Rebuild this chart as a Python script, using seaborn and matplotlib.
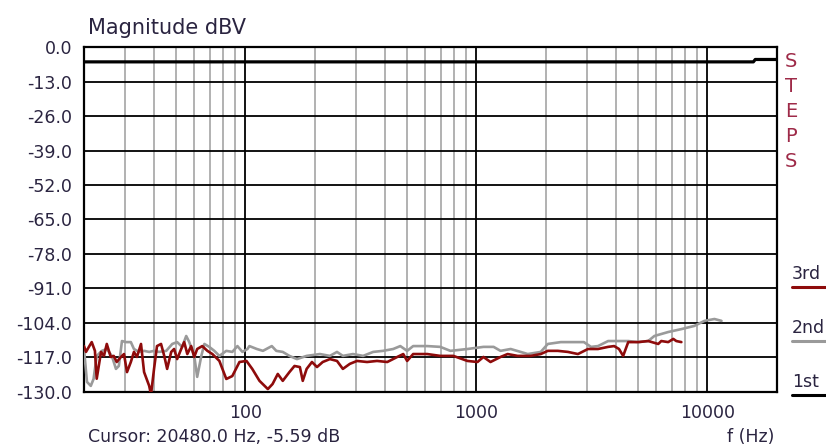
import numpy as np
import pandas as pd
import matplotlib
matplotlib.use("Agg")
import matplotlib.pyplot as plt
import seaborn as sns
from matplotlib.lines import Line2D
from matplotlib.ticker import FixedLocator, LogLocator, NullFormatter

# 1st harmonic (fundamental), dBV
freq_1st = [20, 15800, 16100, 20000]
db_1st = [-5.6, -5.6, -4.7, -4.7]

# 2nd harmonic
freq_2nd = [20.0, 20.6, 21.4, 22.0, 22.7, 23.9, 25.1, 26.4, 27.5, 28.3, 29.2, 30.4, 31.9, 32.9,
            34.6, 36.4, 38.3, 40.2, 42.3, 45.4, 48.2, 50.6, 53.2, 55.4, 57.1, 60.0, 61.8, 64.4,
            66.4, 69.7, 73.3, 77.1, 82.6, 87.7, 92.3, 97.0, 102, 104, 112, 119, 130, 136, 145,
            155, 167, 184, 210, 232, 249, 264, 292, 323, 357, 394, 436, 468, 501, 532, 612, 697,
            771, 914, 1072, 1186, 1271, 1406, 1553, 1667, 1898, 2036, 2317, 2917, 3133, 3357,
            3715, 4539, 5012, 5538, 5888, 6761, 7709, 8770, 9705, 10720, 11500]
db_2nd = [-113.8, -126.2, -127.7, -125.1, -116.4, -114.5, -113.8, -116.4, -121.3, -120.2, -110.8,
          -111.2, -111.2, -113.8, -114.9, -114.5, -114.9, -114.5, -114.9, -114.5, -111.9, -111.2,
          -113.0, -108.9, -111.2, -116.4, -124.3, -116.4, -111.9, -113.0, -114.5, -116.4, -114.5,
          -114.9, -112.7, -114.9, -113.8, -112.7, -113.8, -114.5, -112.7, -114.5, -114.9, -116.4,
          -117.6, -116.4, -115.7, -116.4, -114.9, -116.4, -115.7, -116.4, -114.9, -114.5, -113.8,
          -112.7, -114.5, -112.7, -112.7, -113.0, -114.5, -113.8, -113.0, -113.0, -114.5, -113.8,
          -114.9, -115.7, -114.9, -111.9, -111.2, -111.2, -113.0, -112.7, -110.8, -110.8, -111.2,
          -110.8, -108.9, -107.4, -106.3, -105.1, -103.2, -102.5, -103.2]

# 3rd harmonic
freq_3rd = [20, 20.4, 21.0, 21.6, 22.3, 22.7, 23.7, 24.4, 25.1, 26.1, 26.9, 27.7, 28.9, 29.8, 30.7,
            31.9, 32.9, 33.9, 35.3, 36.4, 38.3, 39.0, 40.2, 41.4, 43.1, 44.5, 45.8, 47.7, 49.1,
            50.6, 52.7, 54.3, 56.0, 58.2, 60.0, 61.8, 65.0, 68.4, 71.9, 77.1, 82.6, 87.7, 94.2,
            101, 107, 115, 125, 131, 138, 145, 155, 163, 172, 177, 184, 194, 204, 216, 232, 249,
            264, 283, 304, 336, 371, 411, 454, 482, 501, 532, 612, 697, 794, 914, 1010, 1072,
            1150, 1271, 1364, 1507, 1717, 1898, 2036, 2249, 2488, 2749, 3039, 3357, 3715, 3945,
            4140, 4315, 4539, 5012, 5538, 6121, 6310, 6761, 7112, 7328, 7709]
db_3rd = [-112.7, -114.9, -113.0, -111.2, -114.5, -125.0, -114.9, -116.4, -111.9, -116.8, -116.4,
          -118.7, -116.8, -115.7, -122.5, -118.7, -114.9, -116.8, -111.9, -122.5, -127.7, -131.0,
          -121.3, -112.7, -111.9, -116.4, -121.3, -114.9, -113.8, -117.6, -113.8, -111.2, -115.7,
          -112.7, -116.8, -113.8, -112.7, -114.5, -115.7, -118.3, -125.1, -124.0, -118.7, -118.3,
          -121.3, -125.8, -128.9, -127.0, -123.2, -125.8, -122.5, -120.2, -120.6, -125.8, -121.3,
          -118.7, -120.6, -118.7, -117.6, -118.3, -121.3, -119.4, -118.3, -118.7, -118.3, -118.7,
          -116.8, -115.7, -118.3, -115.7, -115.7, -116.4, -116.4, -118.3, -118.7, -116.8, -118.7,
          -116.8, -115.7, -116.4, -116.4, -115.7, -114.5, -114.5, -114.9, -115.7, -113.8, -113.8,
          -113.0, -112.7, -113.8, -116.4, -111.2, -111.2, -110.8, -111.9, -110.8, -111.2, -110.0,
          -110.8, -111.2]

y_ticks = [0, -13, -26, -39, -52, -65, -78, -91, -104, -117, -130]
x_ticks = [100, 1000, 10000]

sns.set_style("white")
plt.rcParams['font.family'] = ['DejaVu Sans']

RED = "#8e0b0b"
GRAY = "#9a9a9a"
TXT = "#2a2440"
FS = 12.5

fig = plt.figure(figsize=(8.26, 4.46), dpi=100)
ax = fig.add_axes([0.1017, 0.1211, 0.839, 0.7735])

df2 = pd.DataFrame({"f": freq_2nd, "db": db_2nd})
df3 = pd.DataFrame({"f": freq_3rd, "db": db_3rd})
df1 = pd.DataFrame({"f": freq_1st, "db": db_1st})

sns.lineplot(data=df2, x="f", y="db", ax=ax, color=GRAY, lw=1.9, estimator=None, sort=False, zorder=4)
sns.lineplot(data=df3, x="f", y="db", ax=ax, color=RED, lw=1.9, estimator=None, sort=False, zorder=5)
sns.lineplot(data=df1, x="f", y="db", ax=ax, color="black", lw=2.3, estimator=None, sort=False, zorder=6)

ax.set_xscale("log")
ax.set_xlim(20, 20000)
ax.set_ylim(-130, 0)
ax.set_xlabel("")
ax.set_ylabel("")

ax.yaxis.set_major_locator(FixedLocator(y_ticks))
ax.set_yticklabels([f"{v:.1f}" for v in y_ticks])
ax.xaxis.set_major_locator(FixedLocator(x_ticks))
ax.set_xticklabels([str(v) for v in x_ticks])
ax.xaxis.set_minor_locator(LogLocator(base=10, subs=np.arange(2, 10)))
ax.xaxis.set_minor_formatter(NullFormatter())

ax.grid(True, which="minor", axis="x", color="#ababab", lw=1.3, zorder=1)
ax.grid(True, which="major", axis="x", color="black", lw=1.3, zorder=2)
ax.grid(True, which="major", axis="y", color="black", lw=1.3, zorder=2)
ax.set_axisbelow(True)
for s in ax.spines.values():
    s.set_color("black")
    s.set_linewidth(1.6)
ax.tick_params(axis="both", which="both", length=0, labelsize=FS, colors=TXT, pad=8.5)

fig.text(0.106, 0.938, "Magnitude dBV", fontsize=15, color=TXT, ha="left", va="center")
fig.text(0.106, 0.020, "Cursor: 20480.0 Hz, -5.59 dB", fontsize=FS, color=TXT, ha="left", va="center")
fig.text(0.938, 0.020, "f (Hz)", fontsize=FS, color=TXT, ha="right", va="center")

# vertical STEPS label
for i, ch in enumerate("STEPS"):
    fig.text(0.958, 0.861 - i * 0.056, ch, fontsize=14, color="#9e2a48", ha="center", va="center")

# legend on the right
legend = [("3rd", RED, 0.386), ("2nd", GRAY, 0.265), ("1st", "black", 0.144)]
for name, col, yy in legend:
    fig.text(0.959, yy, name, fontsize=FS, color=TXT, ha="left", va="center")
    fig.add_artist(Line2D([0.959, 1.0], [yy - 0.03, yy - 0.03], color=col, lw=2.2,
                          transform=fig.transFigure))

fig.savefig("out.png", dpi=100)
